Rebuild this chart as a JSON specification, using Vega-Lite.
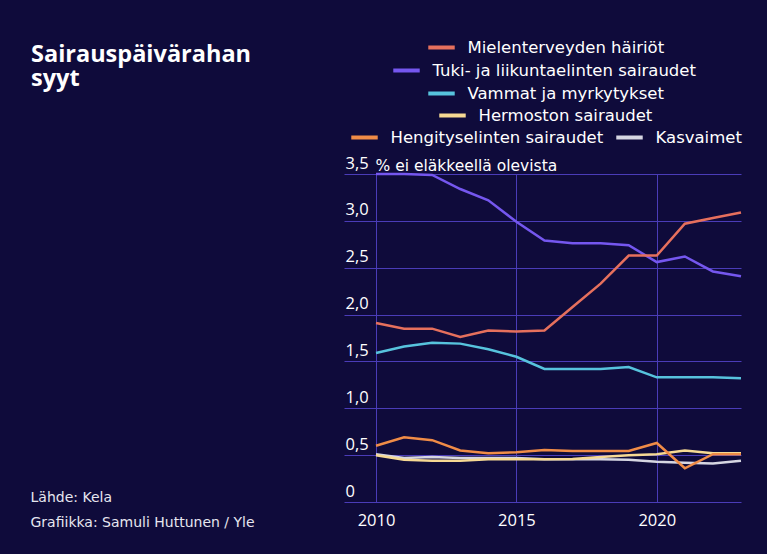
{
  "$schema": "https://vega.github.io/schema/vega-lite/v6.json",
  "width": 397,
  "height": 328,
  "autosize": "none",
  "padding": {"left": 344, "top": 174, "right": 26, "bottom": 52},
  "background": "#0f0b3b",
  "title": {
    "text": ["Sairauspäivärahan", "syyt"],
    "anchor": "start",
    "frame": "group",
    "dx": -313,
    "dy": 62,
    "fontSize": 23.5,
    "fontWeight": "bold",
    "font": "Open Sans",
    "color": "#ffffff",
    "lineHeight": 24
  },
  "data": {
    "values": [
      {"vuosi": 2010, "sarja": "Mielenterveyden häiriöt", "arvo": 1.91},
      {"vuosi": 2011, "sarja": "Mielenterveyden häiriöt", "arvo": 1.85},
      {"vuosi": 2012, "sarja": "Mielenterveyden häiriöt", "arvo": 1.85},
      {"vuosi": 2013, "sarja": "Mielenterveyden häiriöt", "arvo": 1.76},
      {"vuosi": 2014, "sarja": "Mielenterveyden häiriöt", "arvo": 1.83},
      {"vuosi": 2015, "sarja": "Mielenterveyden häiriöt", "arvo": 1.82},
      {"vuosi": 2016, "sarja": "Mielenterveyden häiriöt", "arvo": 1.83},
      {"vuosi": 2017, "sarja": "Mielenterveyden häiriöt", "arvo": 2.08},
      {"vuosi": 2018, "sarja": "Mielenterveyden häiriöt", "arvo": 2.33},
      {"vuosi": 2019, "sarja": "Mielenterveyden häiriöt", "arvo": 2.63},
      {"vuosi": 2020, "sarja": "Mielenterveyden häiriöt", "arvo": 2.63},
      {"vuosi": 2021, "sarja": "Mielenterveyden häiriöt", "arvo": 2.97},
      {"vuosi": 2022, "sarja": "Mielenterveyden häiriöt", "arvo": 3.03},
      {"vuosi": 2023, "sarja": "Mielenterveyden häiriöt", "arvo": 3.09},
      {"vuosi": 2010, "sarja": "Tuki- ja liikuntaelinten sairaudet", "arvo": 3.5},
      {"vuosi": 2011, "sarja": "Tuki- ja liikuntaelinten sairaudet", "arvo": 3.5},
      {"vuosi": 2012, "sarja": "Tuki- ja liikuntaelinten sairaudet", "arvo": 3.49},
      {"vuosi": 2013, "sarja": "Tuki- ja liikuntaelinten sairaudet", "arvo": 3.34},
      {"vuosi": 2014, "sarja": "Tuki- ja liikuntaelinten sairaudet", "arvo": 3.22},
      {"vuosi": 2015, "sarja": "Tuki- ja liikuntaelinten sairaudet", "arvo": 2.99},
      {"vuosi": 2016, "sarja": "Tuki- ja liikuntaelinten sairaudet", "arvo": 2.79},
      {"vuosi": 2017, "sarja": "Tuki- ja liikuntaelinten sairaudet", "arvo": 2.76},
      {"vuosi": 2018, "sarja": "Tuki- ja liikuntaelinten sairaudet", "arvo": 2.76},
      {"vuosi": 2019, "sarja": "Tuki- ja liikuntaelinten sairaudet", "arvo": 2.74},
      {"vuosi": 2020, "sarja": "Tuki- ja liikuntaelinten sairaudet", "arvo": 2.56},
      {"vuosi": 2021, "sarja": "Tuki- ja liikuntaelinten sairaudet", "arvo": 2.62},
      {"vuosi": 2022, "sarja": "Tuki- ja liikuntaelinten sairaudet", "arvo": 2.46},
      {"vuosi": 2023, "sarja": "Tuki- ja liikuntaelinten sairaudet", "arvo": 2.41},
      {"vuosi": 2010, "sarja": "Vammat ja myrkytykset", "arvo": 1.59},
      {"vuosi": 2011, "sarja": "Vammat ja myrkytykset", "arvo": 1.66},
      {"vuosi": 2012, "sarja": "Vammat ja myrkytykset", "arvo": 1.70},
      {"vuosi": 2013, "sarja": "Vammat ja myrkytykset", "arvo": 1.69},
      {"vuosi": 2014, "sarja": "Vammat ja myrkytykset", "arvo": 1.63},
      {"vuosi": 2015, "sarja": "Vammat ja myrkytykset", "arvo": 1.55},
      {"vuosi": 2016, "sarja": "Vammat ja myrkytykset", "arvo": 1.42},
      {"vuosi": 2017, "sarja": "Vammat ja myrkytykset", "arvo": 1.42},
      {"vuosi": 2018, "sarja": "Vammat ja myrkytykset", "arvo": 1.42},
      {"vuosi": 2019, "sarja": "Vammat ja myrkytykset", "arvo": 1.44},
      {"vuosi": 2020, "sarja": "Vammat ja myrkytykset", "arvo": 1.33},
      {"vuosi": 2021, "sarja": "Vammat ja myrkytykset", "arvo": 1.33},
      {"vuosi": 2022, "sarja": "Vammat ja myrkytykset", "arvo": 1.33},
      {"vuosi": 2023, "sarja": "Vammat ja myrkytykset", "arvo": 1.32},
      {"vuosi": 2010, "sarja": "Hermoston sairaudet", "arvo": 0.50},
      {"vuosi": 2011, "sarja": "Hermoston sairaudet", "arvo": 0.45},
      {"vuosi": 2012, "sarja": "Hermoston sairaudet", "arvo": 0.44},
      {"vuosi": 2013, "sarja": "Hermoston sairaudet", "arvo": 0.44},
      {"vuosi": 2014, "sarja": "Hermoston sairaudet", "arvo": 0.455},
      {"vuosi": 2015, "sarja": "Hermoston sairaudet", "arvo": 0.455},
      {"vuosi": 2016, "sarja": "Hermoston sairaudet", "arvo": 0.455},
      {"vuosi": 2017, "sarja": "Hermoston sairaudet", "arvo": 0.46},
      {"vuosi": 2018, "sarja": "Hermoston sairaudet", "arvo": 0.48},
      {"vuosi": 2019, "sarja": "Hermoston sairaudet", "arvo": 0.50},
      {"vuosi": 2020, "sarja": "Hermoston sairaudet", "arvo": 0.51},
      {"vuosi": 2021, "sarja": "Hermoston sairaudet", "arvo": 0.55},
      {"vuosi": 2022, "sarja": "Hermoston sairaudet", "arvo": 0.52},
      {"vuosi": 2023, "sarja": "Hermoston sairaudet", "arvo": 0.52},
      {"vuosi": 2010, "sarja": "Hengityselinten sairaudet", "arvo": 0.60},
      {"vuosi": 2011, "sarja": "Hengityselinten sairaudet", "arvo": 0.69},
      {"vuosi": 2012, "sarja": "Hengityselinten sairaudet", "arvo": 0.66},
      {"vuosi": 2013, "sarja": "Hengityselinten sairaudet", "arvo": 0.55},
      {"vuosi": 2014, "sarja": "Hengityselinten sairaudet", "arvo": 0.52},
      {"vuosi": 2015, "sarja": "Hengityselinten sairaudet", "arvo": 0.53},
      {"vuosi": 2016, "sarja": "Hengityselinten sairaudet", "arvo": 0.555},
      {"vuosi": 2017, "sarja": "Hengityselinten sairaudet", "arvo": 0.545},
      {"vuosi": 2018, "sarja": "Hengityselinten sairaudet", "arvo": 0.545},
      {"vuosi": 2019, "sarja": "Hengityselinten sairaudet", "arvo": 0.545},
      {"vuosi": 2020, "sarja": "Hengityselinten sairaudet", "arvo": 0.63},
      {"vuosi": 2021, "sarja": "Hengityselinten sairaudet", "arvo": 0.36},
      {"vuosi": 2022, "sarja": "Hengityselinten sairaudet", "arvo": 0.51},
      {"vuosi": 2023, "sarja": "Hengityselinten sairaudet", "arvo": 0.51},
      {"vuosi": 2010, "sarja": "Kasvaimet", "arvo": 0.51},
      {"vuosi": 2011, "sarja": "Kasvaimet", "arvo": 0.47},
      {"vuosi": 2012, "sarja": "Kasvaimet", "arvo": 0.48},
      {"vuosi": 2013, "sarja": "Kasvaimet", "arvo": 0.47},
      {"vuosi": 2014, "sarja": "Kasvaimet", "arvo": 0.47},
      {"vuosi": 2015, "sarja": "Kasvaimet", "arvo": 0.47},
      {"vuosi": 2016, "sarja": "Kasvaimet", "arvo": 0.455},
      {"vuosi": 2017, "sarja": "Kasvaimet", "arvo": 0.455},
      {"vuosi": 2018, "sarja": "Kasvaimet", "arvo": 0.455},
      {"vuosi": 2019, "sarja": "Kasvaimet", "arvo": 0.45},
      {"vuosi": 2020, "sarja": "Kasvaimet", "arvo": 0.43},
      {"vuosi": 2021, "sarja": "Kasvaimet", "arvo": 0.42},
      {"vuosi": 2022, "sarja": "Kasvaimet", "arvo": 0.41},
      {"vuosi": 2023, "sarja": "Kasvaimet", "arvo": 0.44}
    ]
  },
  "encoding": {
    "x": {
      "field": "vuosi",
      "type": "quantitative",
      "scale": {"domain": [2008.86, 2023], "nice": false, "zero": false},
      "axis": {
        "values": [2010, 2015, 2020],
        "format": "d",
        "grid": true,
        "domain": false,
        "ticks": false,
        "tickSize": 0,
        "labelBaseline": "alphabetic",
        "labelPadding": 23,
        "labelFlush": false,
        "labelOverlap": false,
        "labelFontSize": 16.5,
        "title": ["Lähde: Kela", "Grafiikka: Samuli Huttunen / Yle"],
        "titleX": -314,
        "titleY": -1,
        "titleAlign": "left",
        "titleAnchor": null,
        "titleBaseline": "alphabetic",
        "titleFont": "DejaVu Sans",
        "titleFontSize": 14,
        "titleFontWeight": "normal",
        "titleLineHeight": 25,
        "titleColor": "#e6e6ef"
      }
    },
    "y": {
      "field": "arvo",
      "type": "quantitative",
      "scale": {"domain": [0, 3.5], "nice": false, "zero": true},
      "axis": {
        "values": [0, 0.5, 1, 1.5, 2, 2.5, 3, 3.5],
        "labelExpr": "datum.value == 0 ? '0' : replace(format(datum.value, '.1f'), '.', ',')",
        "grid": true,
        "domain": false,
        "ticks": false,
        "tickSize": 0,
        "labelAlign": "left",
        "labelBaseline": "alphabetic",
        "labelPadding": -1,
        "labelOffset": -6,
        "labelFlush": false,
        "labelOverlap": false,
        "labelFontSize": 16.5,
        "title": "% ei eläkkeellä olevista",
        "titleAngle": 0,
        "titleAlign": "left",
        "titleBaseline": "alphabetic",
        "titleX": 31,
        "titleY": -3.5,
        "titleFont": "DejaVu Sans",
        "titleFontSize": 15.5,
        "titleFontWeight": "normal",
        "titleColor": "#ffffff"
      }
    }
  },
  "layer": [
    {
      "transform": [{"filter": "datum.sarja === 'Kasvaimet'"}],
      "mark": {"type": "line", "strokeWidth": 2.5},
      "encoding": {
        "color": {"field": "sarja", "type": "nominal",
          "scale": {"domain": ["Kasvaimet"], "range": ["#d6d6e2"]},
          "legend": {"orient": "none", "legendX": 270, "legendY": -52}}
      }
    },
    {
      "transform": [{"filter": "datum.sarja === 'Hermoston sairaudet'"}],
      "mark": {"type": "line", "strokeWidth": 2.5},
      "encoding": {
        "color": {"field": "sarja", "type": "nominal",
          "scale": {"domain": ["Hermoston sairaudet"], "range": ["#f6d993"]},
          "legend": {"orient": "none", "legendX": 93, "legendY": -74}}
      }
    },
    {
      "transform": [{"filter": "datum.sarja === 'Hengityselinten sairaudet'"}],
      "mark": {"type": "line", "strokeWidth": 2.5},
      "encoding": {
        "color": {"field": "sarja", "type": "nominal",
          "scale": {"domain": ["Hengityselinten sairaudet"], "range": ["#f08c47"]},
          "legend": {"orient": "none", "legendX": 5, "legendY": -52}}
      }
    },
    {
      "transform": [{"filter": "datum.sarja === 'Vammat ja myrkytykset'"}],
      "mark": {"type": "line", "strokeWidth": 2.5},
      "encoding": {
        "color": {"field": "sarja", "type": "nominal",
          "scale": {"domain": ["Vammat ja myrkytykset"], "range": ["#57c3dd"]},
          "legend": {"orient": "none", "legendX": 82, "legendY": -96}}
      }
    },
    {
      "transform": [{"filter": "datum.sarja === 'Tuki- ja liikuntaelinten sairaudet'"}],
      "mark": {"type": "line", "strokeWidth": 2.5},
      "encoding": {
        "color": {"field": "sarja", "type": "nominal",
          "scale": {"domain": ["Tuki- ja liikuntaelinten sairaudet"], "range": ["#7557ef"]},
          "legend": {"orient": "none", "legendX": 47, "legendY": -119}}
      }
    },
    {
      "transform": [{"filter": "datum.sarja === 'Mielenterveyden häiriöt'"}],
      "mark": {"type": "line", "strokeWidth": 2.5},
      "encoding": {
        "color": {"field": "sarja", "type": "nominal",
          "scale": {"domain": ["Mielenterveyden häiriöt"], "range": ["#e6705d"]},
          "legend": {"orient": "none", "legendX": 82, "legendY": -142}}
      }
    }
  ],
  "resolve": {"scale": {"color": "independent"}, "legend": {"color": "independent"}},
  "config": {
    "font": "Open Sans",
    "view": {"stroke": null},
    "axis": {
      "gridColor": "#4a3cb8",
      "gridWidth": 1,
      "gridOpacity": 1,
      "labelColor": "#ffffff",
      "labelFont": "Open Sans",
      "titleFont": "Open Sans"
    },
    "legend": {
      "title": null,
      "padding": 0,
      "symbolType": "stroke",
      "symbolSize": 700,
      "symbolStrokeWidth": 4,
      "labelColor": "#ffffff",
      "labelFontSize": 16.5,
      "labelFont": "DejaVu Sans",
      "labelLimit": 400,
      "labelOffset": 10.5,
      "rowPadding": 0
    }
  }
}
